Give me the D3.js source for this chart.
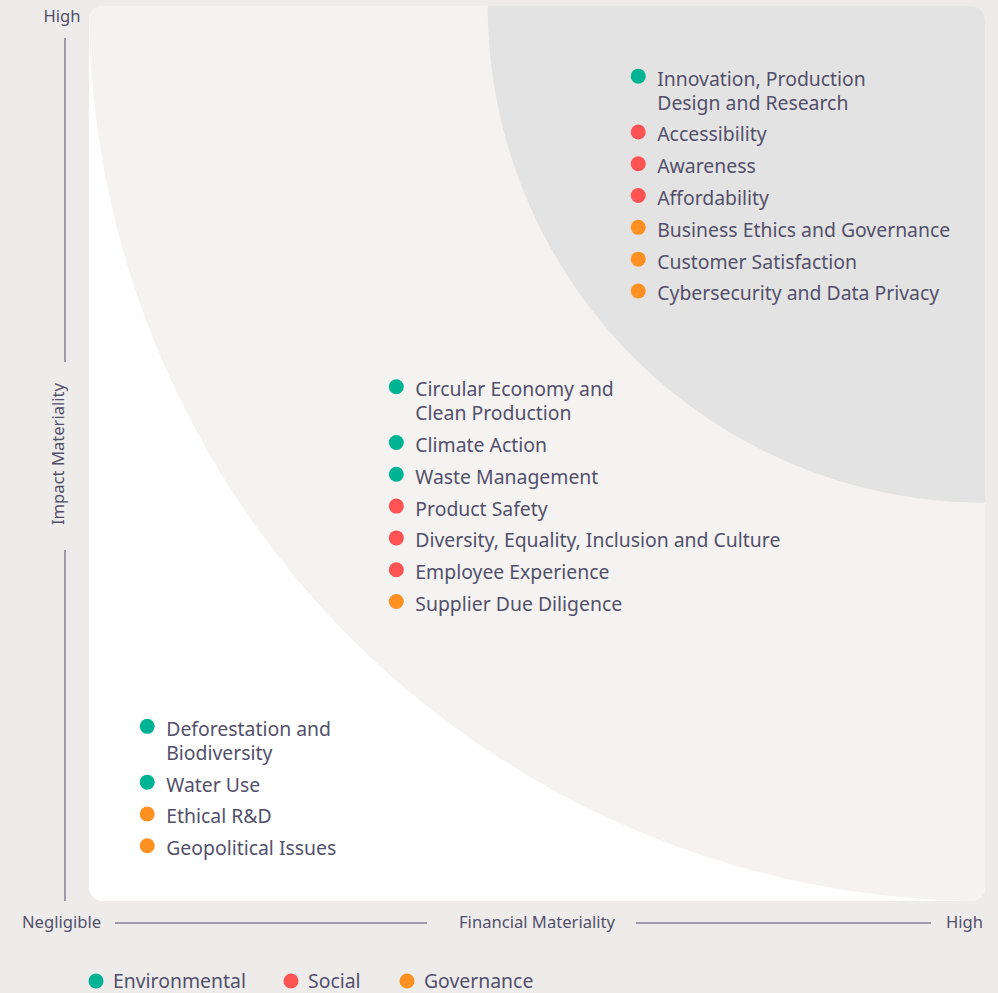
<!DOCTYPE html>
<html>
<head>
<meta charset="utf-8">
<script src="https://cdn.jsdelivr.net/npm/d3@7"></script>
<style>
  html, body { margin: 0; padding: 0; background: #EDECEA; }
  svg { display: block; font-family: "Noto Sans", sans-serif; }
</style>
</head>
<body>
<svg id="chart" width="998" height="993"></svg>
<script>
// ---------- DATA ----------
const categories = ["Environmental", "Social", "Governance"];

// materiality tiers: anchor position of each topic list (financial, impact scores 0..1)
const tierNames = ["High", "Medium", "Low"];
const tierFinancial = [0.613, 0.343, 0.065];
const tierImpact = [0.911, 0.564, 0.1845];

// zone boundaries (radius as a share of the full axis range, measured from the top-right corner)
const zoneRadius = [1.0, 0.555];

const topicLabels = [
  ["Innovation, Production", "Design and Research"],
  ["Accessibility"],
  ["Awareness"],
  ["Affordability"],
  ["Business Ethics and Governance"],
  ["Customer Satisfaction"],
  ["Cybersecurity and Data Privacy"],
  ["Circular Economy and", "Clean Production"],
  ["Climate Action"],
  ["Waste Management"],
  ["Product Safety"],
  ["Diversity, Equality, Inclusion and Culture"],
  ["Employee Experience"],
  ["Supplier Due Diligence"],
  ["Deforestation and", "Biodiversity"],
  ["Water Use"],
  ["Ethical R&D"],
  ["Geopolitical Issues"]
];
const topicCategory = [
  "Environmental", "Social", "Social", "Social", "Governance", "Governance", "Governance",
  "Environmental", "Environmental", "Environmental", "Social", "Social", "Social", "Governance",
  "Environmental", "Environmental", "Governance", "Governance"
];
const topicTier = [
  "High", "High", "High", "High", "High", "High", "High",
  "Medium", "Medium", "Medium", "Medium", "Medium", "Medium", "Medium",
  "Low", "Low", "Low", "Low"
];

const axisLabels = { xLow: "Negligible", xTitle: "Financial Materiality", xHigh: "High",
                     yTitle: "Impact Materiality", yHigh: "High" };

// ---------- STYLE ----------
const colorScale = d3.scaleOrdinal().domain(categories).range(["#00B493", "#FF5252", "#FF9021"]);
const textColor = "#53506A";
const lineColor = "#4E4B6B";
const panel = { left: 89, top: 6, right: 985, bottom: 901, r: 14 };
const lineHeight = 24, itemGap = 31.8, fontSize = 19.4, dotR = 7.5;

const svg = d3.select("#chart");
const x = d3.scaleLinear().domain([0, 1]).range([panel.left, panel.right]);
const y = d3.scaleLinear().domain([0, 1]).range([panel.bottom, panel.top]);

// clip path for rounded panel
const defs = svg.append("defs");
defs.append("clipPath").attr("id", "panelClip")
  .append("rect")
  .attr("x", panel.left).attr("y", panel.top)
  .attr("width", panel.right - panel.left).attr("height", panel.bottom - panel.top)
  .attr("rx", panel.r).attr("ry", panel.r);

const g = svg.append("g").attr("clip-path", "url(#panelClip)");
g.append("rect")
  .attr("x", panel.left).attr("y", panel.top)
  .attr("width", panel.right - panel.left).attr("height", panel.bottom - panel.top)
  .attr("fill", "#FFFFFF");

const zoneFill = ["#F4F3F1", "#E3E3E3"];
zoneRadius.forEach((r, i) => {
  const cx = x(1), cy = y(1);
  const rx = x(1) - x(1 - r), ry = y(1 - r) - y(1);
  const p = d3.path();
  p.moveTo(cx, cy);
  p.lineTo(cx - rx, cy);
  const steps = 120;
  for (let k = 1; k <= steps; k++) {
    const a = (Math.PI / 2) * k / steps;
    p.lineTo(cx - rx * Math.cos(a), cy + ry * Math.sin(a));
  }
  p.closePath();
  g.append("path").attr("d", p.toString()).attr("fill", zoneFill[i]);
});

// ---------- TOPIC LISTS ----------
tierNames.forEach((tier, ti) => {
  const idx = topicTier.map((t, i) => t === tier ? i : -1).filter(i => i >= 0);
  let yy = y(tierImpact[ti]);
  const x0 = x(tierFinancial[ti]);
  idx.forEach(i => {
    const lines = topicLabels[i];
    svg.append("circle")
      .attr("cx", x0).attr("cy", yy - 9.5).attr("r", dotR)
      .attr("fill", colorScale(topicCategory[i]));
    lines.forEach((ln, li) => {
      svg.append("text")
        .attr("x", x0 + 19).attr("y", yy + li * lineHeight)
        .attr("font-size", fontSize).attr("fill", textColor).text(ln);
    });
    yy += (lines.length - 1) * lineHeight + itemGap;
  });
});

// ---------- AXES ----------
const axisFont = 16.6;
// vertical
svg.append("text").attr("x", 62).attr("y", 22).attr("text-anchor", "middle")
  .attr("font-size", axisFont).attr("fill", textColor).text(axisLabels.yHigh);
svg.append("line").attr("x1", 65).attr("x2", 65).attr("y1", 38).attr("y2", 362)
  .attr("stroke", lineColor).attr("stroke-width", 1);
svg.append("line").attr("x1", 65).attr("x2", 65).attr("y1", 550).attr("y2", panel.bottom)
  .attr("stroke", lineColor).attr("stroke-width", 1);
svg.append("text").attr("transform", "translate(64,454) rotate(-90)").attr("text-anchor", "middle")
  .attr("font-size", axisFont).attr("fill", textColor).text(axisLabels.yTitle);

// horizontal
const axY = 923;
svg.append("text").attr("x", 22).attr("y", axY + 5).attr("font-size", axisFont)
  .attr("fill", textColor).text(axisLabels.xLow);
svg.append("line").attr("x1", 115).attr("x2", 427).attr("y1", axY).attr("y2", axY)
  .attr("stroke", lineColor).attr("stroke-width", 1);
svg.append("text").attr("x", 537).attr("y", axY + 5).attr("text-anchor", "middle")
  .attr("font-size", axisFont).attr("fill", textColor).text(axisLabels.xTitle);
svg.append("line").attr("x1", 636).attr("x2", 931).attr("y1", axY).attr("y2", axY)
  .attr("stroke", lineColor).attr("stroke-width", 1);
svg.append("text").attr("x", 983).attr("y", axY + 5).attr("text-anchor", "end")
  .attr("font-size", axisFont).attr("fill", textColor).text(axisLabels.xHigh);

// ---------- LEGEND ----------
const legendX = [96, 291, 407];
categories.forEach((c, i) => {
  svg.append("circle").attr("cx", legendX[i]).attr("cy", 981).attr("r", dotR)
    .attr("fill", colorScale(c));
  svg.append("text").attr("x", legendX[i] + 17).attr("y", 988)
    .attr("font-size", fontSize).attr("fill", textColor).text(c);
});
</script>
</body>
</html>
